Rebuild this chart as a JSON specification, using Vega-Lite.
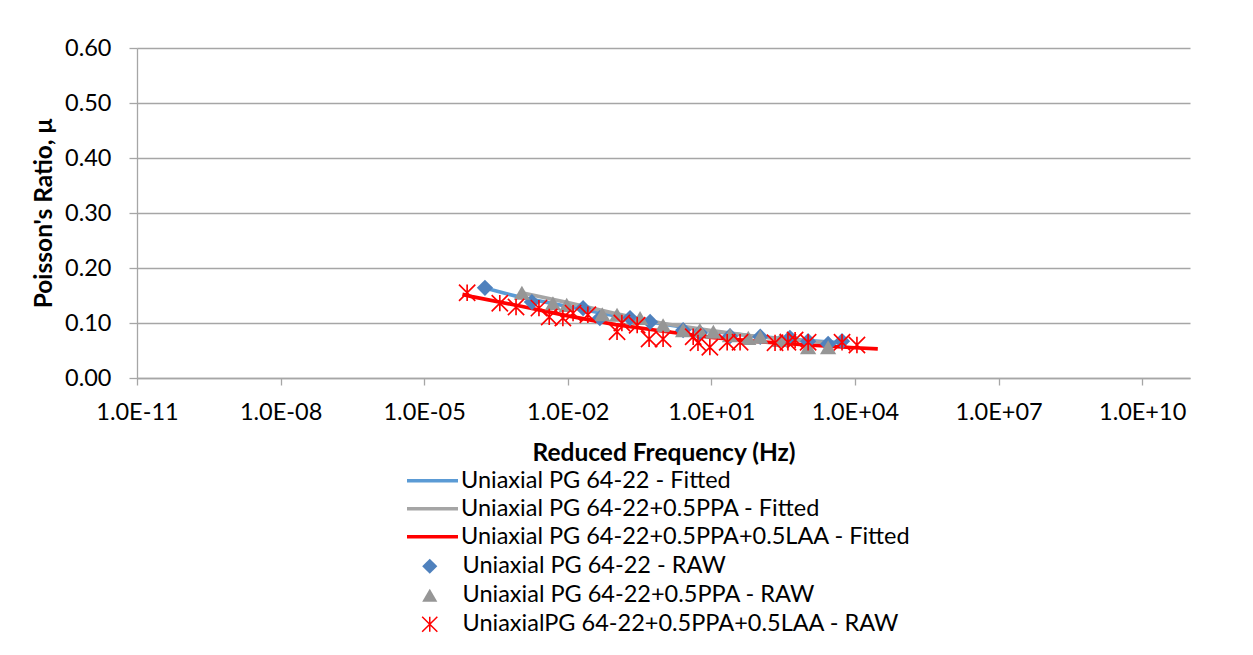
{
  "$schema": "https://vega.github.io/schema/vega-lite/v6.json",
  "width": 1053,
  "height": 330,
  "autosize": "none",
  "padding": {"left": 137, "top": 48, "right": 63, "bottom": 277},
  "background": "white",
  "config": {
    "font": "Lato",
    "view": {"stroke": null},
    "axis": {
      "labelFont": "Lato",
      "labelFontSize": 23.5,
      "labelColor": "#000000",
      "titleFont": "Lato",
      "titleFontSize": 24.5,
      "titleFontWeight": "bold",
      "titleColor": "#000000",
      "domainColor": "#a6a6a6",
      "tickColor": "#a6a6a6",
      "gridColor": "#a6a6a6",
      "domainWidth": 1.3,
      "tickWidth": 1.3,
      "gridWidth": 1.3
    },
    "legend": {"labelFont": "Lato", "labelFontSize": 23.5, "labelColor": "#000000", "labelLimit": 800}
  },
  "datasets": {
    "fitted": [
      {"Fitted series": "Uniaxial PG 64-22 - Fitted", "f": 0.000178, "v": 0.164},
      {"Fitted series": "Uniaxial PG 64-22 - Fitted", "f": 0.001, "v": 0.147},
      {"Fitted series": "Uniaxial PG 64-22 - Fitted", "f": 0.01, "v": 0.130},
      {"Fitted series": "Uniaxial PG 64-22 - Fitted", "f": 0.1, "v": 0.113},
      {"Fitted series": "Uniaxial PG 64-22 - Fitted", "f": 1, "v": 0.098},
      {"Fitted series": "Uniaxial PG 64-22 - Fitted", "f": 10, "v": 0.085},
      {"Fitted series": "Uniaxial PG 64-22 - Fitted", "f": 100, "v": 0.075},
      {"Fitted series": "Uniaxial PG 64-22 - Fitted", "f": 1000, "v": 0.068},
      {"Fitted series": "Uniaxial PG 64-22 - Fitted", "f": 5600, "v": 0.064},
      {"Fitted series": "Uniaxial PG 64-22+0.5PPA - Fitted", "f": 0.0011, "v": 0.155},
      {"Fitted series": "Uniaxial PG 64-22+0.5PPA - Fitted", "f": 0.01, "v": 0.137},
      {"Fitted series": "Uniaxial PG 64-22+0.5PPA - Fitted", "f": 0.1, "v": 0.117},
      {"Fitted series": "Uniaxial PG 64-22+0.5PPA - Fitted", "f": 1, "v": 0.099},
      {"Fitted series": "Uniaxial PG 64-22+0.5PPA - Fitted", "f": 10, "v": 0.086},
      {"Fitted series": "Uniaxial PG 64-22+0.5PPA - Fitted", "f": 100, "v": 0.075},
      {"Fitted series": "Uniaxial PG 64-22+0.5PPA - Fitted", "f": 1000, "v": 0.067},
      {"Fitted series": "Uniaxial PG 64-22+0.5PPA - Fitted", "f": 3000, "v": 0.064},
      {"Fitted series": "Uniaxial PG 64-22+0.5PPA+0.5LAA - Fitted", "f": 0.000063, "v": 0.152},
      {"Fitted series": "Uniaxial PG 64-22+0.5PPA+0.5LAA - Fitted", "f": 0.0001, "v": 0.148},
      {"Fitted series": "Uniaxial PG 64-22+0.5PPA+0.5LAA - Fitted", "f": 0.001, "v": 0.131},
      {"Fitted series": "Uniaxial PG 64-22+0.5PPA+0.5LAA - Fitted", "f": 0.01, "v": 0.113},
      {"Fitted series": "Uniaxial PG 64-22+0.5PPA+0.5LAA - Fitted", "f": 0.1, "v": 0.097},
      {"Fitted series": "Uniaxial PG 64-22+0.5PPA+0.5LAA - Fitted", "f": 1, "v": 0.085},
      {"Fitted series": "Uniaxial PG 64-22+0.5PPA+0.5LAA - Fitted", "f": 10, "v": 0.074},
      {"Fitted series": "Uniaxial PG 64-22+0.5PPA+0.5LAA - Fitted", "f": 100, "v": 0.066},
      {"Fitted series": "Uniaxial PG 64-22+0.5PPA+0.5LAA - Fitted", "f": 1000, "v": 0.060},
      {"Fitted series": "Uniaxial PG 64-22+0.5PPA+0.5LAA - Fitted", "f": 10000, "v": 0.055},
      {"Fitted series": "Uniaxial PG 64-22+0.5PPA+0.5LAA - Fitted", "f": 30000, "v": 0.053}
    ],
    "raw": [
      {"Raw series": "Uniaxial PG 64-22 - RAW", "f": 0.000186, "v": 0.164},
      {"Raw series": "Uniaxial PG 64-22 - RAW", "f": 0.00178, "v": 0.138},
      {"Raw series": "Uniaxial PG 64-22 - RAW", "f": 0.0209, "v": 0.127},
      {"Raw series": "Uniaxial PG 64-22 - RAW", "f": 0.0468, "v": 0.109},
      {"Raw series": "Uniaxial PG 64-22 - RAW", "f": 0.2, "v": 0.109},
      {"Raw series": "Uniaxial PG 64-22 - RAW", "f": 0.525, "v": 0.102},
      {"Raw series": "Uniaxial PG 64-22 - RAW", "f": 2.57, "v": 0.087},
      {"Raw series": "Uniaxial PG 64-22 - RAW", "f": 5.75, "v": 0.082},
      {"Raw series": "Uniaxial PG 64-22 - RAW", "f": 24.5, "v": 0.076},
      {"Raw series": "Uniaxial PG 64-22 - RAW", "f": 105, "v": 0.075},
      {"Raw series": "Uniaxial PG 64-22 - RAW", "f": 437, "v": 0.073},
      {"Raw series": "Uniaxial PG 64-22 - RAW", "f": 1050, "v": 0.067},
      {"Raw series": "Uniaxial PG 64-22 - RAW", "f": 2750, "v": 0.062},
      {"Raw series": "Uniaxial PG 64-22 - RAW", "f": 5370, "v": 0.067},
      {"Raw series": "Uniaxial PG 64-22+0.5PPA - RAW", "f": 0.0011, "v": 0.155},
      {"Raw series": "Uniaxial PG 64-22+0.5PPA - RAW", "f": 0.0049, "v": 0.136},
      {"Raw series": "Uniaxial PG 64-22+0.5PPA - RAW", "f": 0.0095, "v": 0.133},
      {"Raw series": "Uniaxial PG 64-22+0.5PPA - RAW", "f": 0.0525, "v": 0.116},
      {"Raw series": "Uniaxial PG 64-22+0.5PPA - RAW", "f": 0.107, "v": 0.115},
      {"Raw series": "Uniaxial PG 64-22+0.5PPA - RAW", "f": 0.324, "v": 0.109},
      {"Raw series": "Uniaxial PG 64-22+0.5PPA - RAW", "f": 0.98, "v": 0.096},
      {"Raw series": "Uniaxial PG 64-22+0.5PPA - RAW", "f": 2.57, "v": 0.087},
      {"Raw series": "Uniaxial PG 64-22+0.5PPA - RAW", "f": 5.75, "v": 0.087},
      {"Raw series": "Uniaxial PG 64-22+0.5PPA - RAW", "f": 11, "v": 0.084},
      {"Raw series": "Uniaxial PG 64-22+0.5PPA - RAW", "f": 24.5, "v": 0.078},
      {"Raw series": "Uniaxial PG 64-22+0.5PPA - RAW", "f": 59, "v": 0.073},
      {"Raw series": "Uniaxial PG 64-22+0.5PPA - RAW", "f": 105, "v": 0.075},
      {"Raw series": "Uniaxial PG 64-22+0.5PPA - RAW", "f": 275, "v": 0.069},
      {"Raw series": "Uniaxial PG 64-22+0.5PPA - RAW", "f": 1050, "v": 0.056},
      {"Raw series": "Uniaxial PG 64-22+0.5PPA - RAW", "f": 2750, "v": 0.056},
      {"Raw series": "UniaxialPG 64-22+0.5PPA+0.5LAA - RAW", "f": 0.000079, "v": 0.155},
      {"Raw series": "UniaxialPG 64-22+0.5PPA+0.5LAA - RAW", "f": 0.00038, "v": 0.136},
      {"Raw series": "UniaxialPG 64-22+0.5PPA+0.5LAA - RAW", "f": 0.00083, "v": 0.129},
      {"Raw series": "UniaxialPG 64-22+0.5PPA+0.5LAA - RAW", "f": 0.0025, "v": 0.127},
      {"Raw series": "UniaxialPG 64-22+0.5PPA+0.5LAA - RAW", "f": 0.0041, "v": 0.111},
      {"Raw series": "UniaxialPG 64-22+0.5PPA+0.5LAA - RAW", "f": 0.0079, "v": 0.109},
      {"Raw series": "UniaxialPG 64-22+0.5PPA+0.5LAA - RAW", "f": 0.0129, "v": 0.118},
      {"Raw series": "UniaxialPG 64-22+0.5PPA+0.5LAA - RAW", "f": 0.0263, "v": 0.115},
      {"Raw series": "UniaxialPG 64-22+0.5PPA+0.5LAA - RAW", "f": 0.107, "v": 0.084},
      {"Raw series": "UniaxialPG 64-22+0.5PPA+0.5LAA - RAW", "f": 0.135, "v": 0.100},
      {"Raw series": "UniaxialPG 64-22+0.5PPA+0.5LAA - RAW", "f": 0.282, "v": 0.096},
      {"Raw series": "UniaxialPG 64-22+0.5PPA+0.5LAA - RAW", "f": 0.5, "v": 0.071},
      {"Raw series": "UniaxialPG 64-22+0.5PPA+0.5LAA - RAW", "f": 0.98, "v": 0.071},
      {"Raw series": "UniaxialPG 64-22+0.5PPA+0.5LAA - RAW", "f": 4.17, "v": 0.075},
      {"Raw series": "UniaxialPG 64-22+0.5PPA+0.5LAA - RAW", "f": 5.25, "v": 0.064},
      {"Raw series": "UniaxialPG 64-22+0.5PPA+0.5LAA - RAW", "f": 9.3, "v": 0.056},
      {"Raw series": "UniaxialPG 64-22+0.5PPA+0.5LAA - RAW", "f": 21.4, "v": 0.065},
      {"Raw series": "UniaxialPG 64-22+0.5PPA+0.5LAA - RAW", "f": 39.8, "v": 0.065},
      {"Raw series": "UniaxialPG 64-22+0.5PPA+0.5LAA - RAW", "f": 214, "v": 0.064},
      {"Raw series": "UniaxialPG 64-22+0.5PPA+0.5LAA - RAW", "f": 398, "v": 0.065},
      {"Raw series": "UniaxialPG 64-22+0.5PPA+0.5LAA - RAW", "f": 562, "v": 0.069},
      {"Raw series": "UniaxialPG 64-22+0.5PPA+0.5LAA - RAW", "f": 1050, "v": 0.065},
      {"Raw series": "UniaxialPG 64-22+0.5PPA+0.5LAA - RAW", "f": 5370, "v": 0.065},
      {"Raw series": "UniaxialPG 64-22+0.5PPA+0.5LAA - RAW", "f": 11000, "v": 0.060}
    ]
  },
  "encoding": {
    "x": {
      "field": "f",
      "type": "quantitative",
      "scale": {"type": "log", "domain": [1e-11, 1e11], "nice": false},
      "axis": {
        "title": "Reduced Frequency (Hz)",
        "values": [1e-11, 1e-8, 1e-5, 0.01, 10, 10000, 1e7, 1e10],
        "labelExpr": "'1.0E' + (round(log(datum.value)/LN10) < 0 ? '-' : '+') + pad(toString(abs(round(log(datum.value)/LN10))), 2, '0', 'left')",
        "grid": false,
        "tickSize": 7,
        "labelPadding": 15,
        "titlePadding": 18,
        "labelFlush": false,
        "labelOverlap": false
      }
    },
    "y": {
      "field": "v",
      "type": "quantitative",
      "scale": {"domain": [0, 0.6], "nice": false},
      "axis": {
        "title": "Poisson's Ratio, μ",
        "values": [0, 0.1, 0.2, 0.3, 0.4, 0.5, 0.6],
        "format": ".2f",
        "grid": true,
        "tickSize": 8,
        "labelPadding": 18,
        "titlePadding": 8
      }
    }
  },
  "layer": [
    {
      "data": {"name": "fitted"},
      "mark": {"type": "line", "strokeWidth": 3.7},
      "encoding": {
        "stroke": {
          "field": "Fitted series",
          "type": "nominal",
          "scale": {
            "domain": ["Uniaxial PG 64-22 - Fitted", "Uniaxial PG 64-22+0.5PPA - Fitted", "Uniaxial PG 64-22+0.5PPA+0.5LAA - Fitted"],
            "range": ["#5b9bd5", "#a5a5a5", "#ff0000"]
          },
          "legend": {
            "title": null,
            "orient": "none",
            "legendX": 268,
            "legendY": 419,
            "symbolType": "stroke",
            "symbolSize": 2601,
            "symbolStrokeWidth": 3.7,
            "labelOffset": 1,
            "clipHeight": 27.5,
            "rowPadding": 0,
            "padding": 0
          }
        }
      }
    },
    {
      "data": {"name": "raw"},
      "mark": {"type": "point", "filled": true, "size": 265, "opacity": 1},
      "encoding": {
        "fill": {
          "field": "Raw series",
          "type": "nominal",
          "scale": {
            "domain": ["Uniaxial PG 64-22 - RAW", "Uniaxial PG 64-22+0.5PPA - RAW", "UniaxialPG 64-22+0.5PPA+0.5LAA - RAW"],
            "range": ["#4f81bd", "#969696", "#ff0000"]
          },
          "legend": {
            "title": null,
            "orient": "none",
            "legendX": 281,
            "legendY": 504,
            "symbolSize": 230,
            "symbolOpacity": 1,
            "labelOffset": 21,
            "clipHeight": 28.5,
            "rowPadding": 0,
            "padding": 0
          }
        },
        "shape": {
          "field": "Raw series",
          "type": "nominal",
          "scale": {
            "domain": ["Uniaxial PG 64-22 - RAW", "Uniaxial PG 64-22+0.5PPA - RAW", "UniaxialPG 64-22+0.5PPA+0.5LAA - RAW"],
            "range": ["diamond", "triangle-up", "M-0.1,-1H0.1V1H-0.1Z M-1.07,-0.93L-0.93,-1.07L1.07,0.93L0.93,1.07Z M-1.07,0.93L0.93,-1.07L1.07,-0.93L-0.93,1.07Z"]
          },
          "legend": {
            "title": null,
            "orient": "none",
            "legendX": 281,
            "legendY": 504,
            "symbolSize": 230,
            "labelOffset": 21,
            "clipHeight": 28.5,
            "rowPadding": 0,
            "padding": 0
          }
        }
      }
    }
  ]
}
